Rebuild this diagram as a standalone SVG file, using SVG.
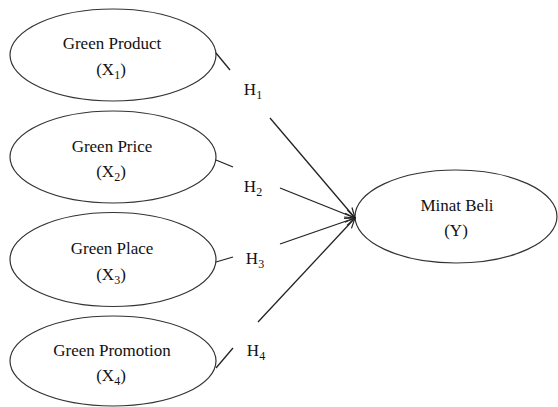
<svg xmlns="http://www.w3.org/2000/svg" width="558" height="407" viewBox="0 0 558 407" font-family="'Liberation Serif', 'DejaVu Serif', serif">
<style>
.node ellipse{fill:#fff;stroke:#333;stroke-width:1.2}
text{font-family:'Liberation Serif','DejaVu Serif',serif;font-size:17px;fill:#111;text-anchor:middle}
.sub{font-size:12px}
.conn line{stroke:#222;stroke-width:1.3}
.arr{marker-end:url(#ah)}
</style>
<defs>
<marker id="ah" markerUnits="userSpaceOnUse" markerWidth="12" markerHeight="12" refX="11" refY="6" orient="auto">
<path d="M1,1.5 L11,6 L1,10.5" fill="none" stroke="#222" stroke-width="1.2"/>
</marker>
</defs>
<rect width="558" height="407" fill="#fff"/>
<g id="x1" class="node">
<ellipse cx="113" cy="55" rx="103" ry="46"/>
<text x="112" y="49">Green Product</text>
<text x="111" y="75">(X<tspan class="sub" dy="4">1</tspan><tspan dy="-4">)</tspan></text>
</g>
<g id="x2" class="node">
<ellipse cx="113" cy="157" rx="103" ry="46"/>
<text x="112" y="152">Green Price</text>
<text x="111" y="177">(X<tspan class="sub" dy="4">2</tspan><tspan dy="-4">)</tspan></text>
</g>
<g id="x3" class="node">
<ellipse cx="113" cy="259.5" rx="103" ry="47"/>
<text x="112" y="254">Green Place</text>
<text x="111" y="280">(X<tspan class="sub" dy="4">3</tspan><tspan dy="-4">)</tspan></text>
</g>
<g id="x4" class="node">
<ellipse cx="113" cy="361" rx="103" ry="45"/>
<text x="112" y="356">Green Promotion</text>
<text x="111" y="381">(X<tspan class="sub" dy="4">4</tspan><tspan dy="-4">)</tspan></text>
</g>
<g id="y" class="node">
<ellipse cx="456" cy="216.5" rx="101" ry="46.5"/>
<text x="457" y="211">Minat Beli</text>
<text x="456" y="236">(Y)</text>
</g>
<g id="connectors" class="conn">
<line x1="216" y1="53" x2="230" y2="70"/>
<line x1="270" y1="118" x2="355" y2="218" class="arr"/>
<line x1="216" y1="160" x2="233" y2="167"/>
<line x1="280" y1="188" x2="355" y2="218" class="arr"/>
<line x1="216" y1="262" x2="233" y2="257"/>
<line x1="280" y1="244" x2="355" y2="218" class="arr"/>
<line x1="216" y1="368" x2="233" y2="348"/>
<line x1="258" y1="322" x2="355" y2="218" class="arr"/>
</g>
<g id="labels">
<text x="253" y="95">H<tspan class="sub" dy="4">1</tspan></text>
<text x="253" y="192">H<tspan class="sub" dy="4">2</tspan></text>
<text x="255" y="264">H<tspan class="sub" dy="4">3</tspan></text>
<text x="256" y="356">H<tspan class="sub" dy="4">4</tspan></text>
</g>
</svg>
